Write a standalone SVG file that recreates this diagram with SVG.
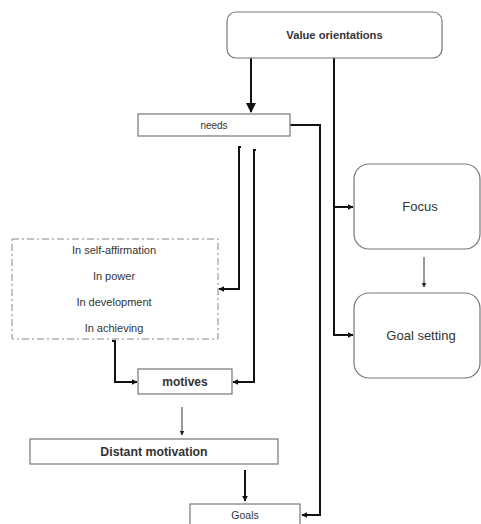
<svg xmlns="http://www.w3.org/2000/svg" width="481" height="524" viewBox="0 0 481 524">
<defs>
<marker id="ah" viewBox="0 0 10 10" refX="9" refY="5" markerWidth="6" markerHeight="6" markerUnits="userSpaceOnUse" orient="auto"><path d="M0,0 L10,5 L0,10 z" fill="#111"/></marker>
<marker id="ahb" viewBox="0 0 10 10" refX="9" refY="5" markerWidth="10" markerHeight="10" markerUnits="userSpaceOnUse" orient="auto"><path d="M0,0 L10,5 L0,10 z" fill="#111"/></marker>
<marker id="ahs" viewBox="0 0 10 10" refX="9" refY="5" markerWidth="5" markerHeight="6" markerUnits="userSpaceOnUse" orient="auto"><path d="M0,0 L10,5 L0,10 z" fill="#222"/></marker>
</defs>
<style>
.box{fill:#fff;stroke:#777;stroke-width:1.2}
.t{font-family:"Liberation Sans",Arial,sans-serif;fill:#333;text-anchor:middle}
.c{fill:none;stroke:#111;stroke-width:2}
.thin{fill:none;stroke:#333;stroke-width:1}
</style>
<rect width="481" height="524" fill="#fff"/>
<g id="connectors">
<path class="c" d="M251,58 V112" stroke-width="3.5" marker-end="url(#ahb)"/>
<path class="c" d="M290,125 H320 V515 H302" marker-end="url(#ah)"/>
<path class="c" d="M334,58 V335 H353" marker-end="url(#ah)"/>
<path class="c" d="M334,207 H353" marker-end="url(#ah)"/>
<path class="thin" d="M424,257 V287" marker-end="url(#ahs)"/>
<path class="c" d="M241,147 H239 V289 H219" marker-end="url(#ah)"/>
<path class="c" d="M256,150 H254 V382 H233" marker-end="url(#ah)"/>
<path class="c" d="M112,341 H115 V382 H137" marker-end="url(#ah)"/>
<path class="thin" d="M182,407 V435" marker-end="url(#ahs)"/>
<path class="c" d="M245,470 V501" stroke-width="1.8" marker-end="url(#ah)"/>
</g>
<g id="value-orientations">
<rect class="box" x="227" y="12" width="215" height="46" rx="9"/>
<text class="t" x="334.5" y="39" font-size="11.2" font-weight="bold" fill="#222">Value orientations</text>
</g>
<g id="needs">
<rect class="box" x="138" y="114" width="152" height="22"/>
<text class="t" x="214" y="129" font-size="10">needs</text>
</g>
<g id="focus">
<rect class="box" x="354" y="164" width="126" height="85" rx="15"/>
<text class="t" x="420" y="211" font-size="13">Focus</text>
</g>
<g id="goal-setting">
<rect class="box" x="354" y="293" width="126" height="85" rx="15"/>
<text class="t" x="421" y="340" font-size="13">Goal setting</text>
</g>
<g id="spheres">
<rect x="12" y="239" width="206" height="100" fill="none" stroke="#888" stroke-width="1" stroke-dasharray="7,3,2,3"/>
<text class="t" x="114" y="254" font-size="11">In self-affirmation</text>
<text class="t" x="114" y="280" font-size="11">In power</text>
<text class="t" x="114" y="306" font-size="11">In development</text>
<text class="t" x="114" y="332" font-size="11">In achieving</text>
</g>
<g id="motives">
<rect class="box" x="138" y="369" width="94" height="25"/>
<text class="t" x="185" y="386" font-size="12" font-weight="bold" fill="#222">motives</text>
</g>
<g id="distant-motivation">
<rect class="box" x="30" y="439" width="248" height="25"/>
<text class="t" x="154" y="456" font-size="12.3" font-weight="bold" fill="#222">Distant motivation</text>
</g>
<g id="goals">
<rect class="box" x="190" y="504" width="110" height="30"/>
<text class="t" x="245" y="519" font-size="10.5">Goals</text>
</g>
</svg>
